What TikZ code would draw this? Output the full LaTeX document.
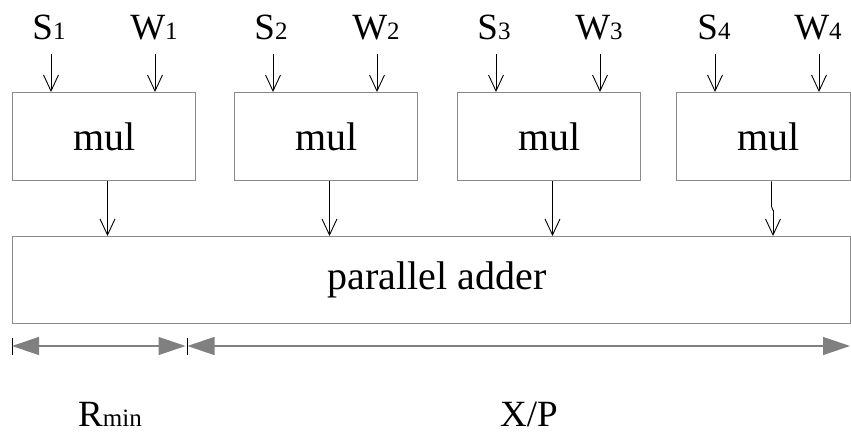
\documentclass[tikz,border=0pt]{standalone}
\usepackage{fontspec}
\setmainfont{Liberation Serif}
\usetikzlibrary{arrows.meta}
\definecolor{edgegray}{HTML}{8A8A8A}
\definecolor{dimgray}{HTML}{808080}
\newcommand{\lbl}[2]{#1{\fontsize{25}{25}\selectfont #2}}
\tikzset{
  box/.style={draw=edgegray, line width=1.4pt, minimum width=183pt, minimum height=88pt,
              anchor=north west, inner sep=0pt, font=\fontsize{40}{40}\selectfont},
  inarr/.style={draw=black, line width=0.9pt, -{Straight Barb[length=16pt,width=15pt,line width=0.9pt]}},
  plainline/.style={draw=black, line width=0.9pt},
  dimline/.style={draw=dimgray, line width=1.3pt, {Triangle[length=27pt,width=18pt]}-{Triangle[length=27pt,width=18pt]}},
  tick/.style={draw=black, line width=0.9pt},
  toplabel/.style={anchor=base, inner sep=0pt, font=\fontsize{37}{37}\selectfont},
  botlabel/.style={anchor=base, inner sep=0pt, font=\fontsize{37}{37}\selectfont}
}
\begin{document}
\begin{tikzpicture}[x=1pt,y=-1pt]
\useasboundingbox (0,0) rectangle (851,434);

% multipliers
\node[box] (m1) at (12,92) {mul};
\node[box] (m2) at (234,92) {mul};
\node[box] (m3) at (457,92) {mul};
\node[box, minimum width=174pt] (m4) at (676,92) {\hspace*{9pt}mul};

% adder
\node[box, minimum width=838pt, minimum height=87pt] (ad) at (12,236) {\hspace*{11pt}parallel adder};

% operand labels
\node[toplabel] (s1) at (49,39) {\lbl{S}{1}};
\node[toplabel] (w1) at (154,39) {\lbl{W}{1}};
\node[toplabel] (s2) at (271,39) {\lbl{S}{2}};
\node[toplabel] (w2) at (376,39) {\lbl{W}{2}};
\node[toplabel] (s3) at (494,39) {\lbl{S}{3}};
\node[toplabel] (w3) at (599,39) {\lbl{W}{3}};
\node[toplabel] (s4) at (714,39) {\lbl{S}{4}};
\node[toplabel] (w4) at (818,39) {\lbl{W}{4}};

% operand arrows into the multipliers
\foreach \m in {m1,m2,m3,m4}{
  \draw[inarr] ([xshift=39pt,yshift=38pt]\m.north west) -- ([xshift=39pt]\m.north west);
  \draw[inarr] ([xshift=143pt,yshift=38pt]\m.north west) -- ([xshift=143pt]\m.north west);
}

% products into the adder
\foreach \m/\i in {m1/1,m2/2,m3/3}{
  \coordinate (o\i) at ([xshift=95.5pt]\m.south west);
  \draw[inarr] (o\i) -- (o\i |- ad.north);
}
\coordinate (o4) at ([xshift=95.5pt]m4.south west);
\coordinate (o4b) at ([xshift=97pt,yshift=-29pt]m4.south west);
\draw[plainline] (o4) -- ++(0,25) -- (o4b);
\draw[inarr] (o4b) -- (o4b |- ad.north);

% timing dimensions
\coordinate (d0) at (12,346);
\coordinate (d1) at (187,346);
\coordinate (d2) at (850,346);
\draw[tick] ([yshift=8.5pt]d0) -- ([yshift=-8.5pt]d0);
\draw[tick] ([yshift=8.5pt]d1) -- ([yshift=-8.5pt]d1);
\draw[dimline] (d0) -- ([xshift=-1.5pt]d1);
\draw[dimline] ([xshift=0.5pt]d1) -- (d2);

\node[botlabel] (rmin) at (110,426) {\lbl{R}{min}};
\node[botlabel] (xp) at (529,426) {X/P};
\end{tikzpicture}
\end{document}
